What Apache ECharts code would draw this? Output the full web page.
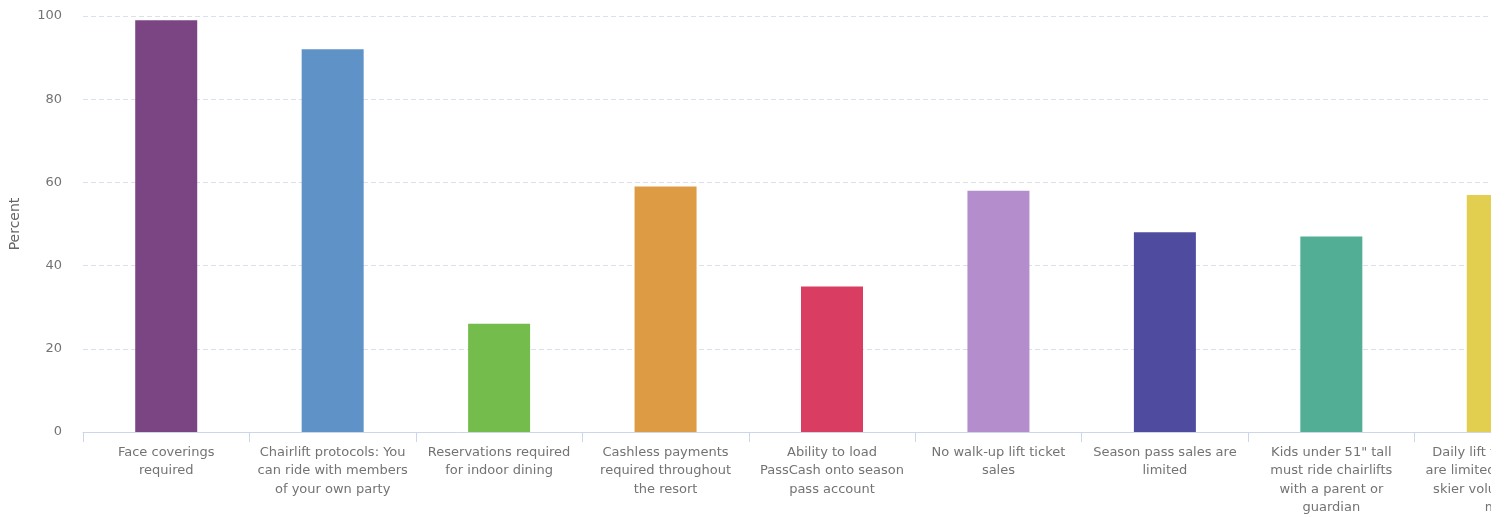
<!DOCTYPE html>
<html>
<head>
<meta charset="utf-8">
<script src="https://cdn.jsdelivr.net/npm/echarts@6/dist/echarts.min.js"></script>
<style>
  html, body { margin: 0; padding: 0; background: #ffffff; }
  #frame { width: 1491px; height: 517px; overflow: hidden; position: relative; }
  #chart { width: 1600px; height: 517px; }
</style>
</head>
<body>
<div id="frame"><div id="chart"></div></div>
<script>
// Resort COVID-19 measures: share of respondents (percent)
const categories = [
  "Face coverings\nrequired",
  "Chairlift protocols: You\ncan ride with members\nof your own party",
  "Reservations required\nfor indoor dining",
  "Cashless payments\nrequired throughout\nthe resort",
  "Ability to load\nPassCash onto season\npass account",
  "No walk-up lift ticket\nsales",
  "Season pass sales are\nlimited",
  "Kids under 51\" tall\nmust ride chairlifts\nwith a parent or\nguardian",
  "Daily lift ticket sales\nare limited to manage\nskier volume on the\nmtn"
];
const percentValues = [99, 92, 26, 59, 35, 58, 48, 47, 57];
const barColors = ["#7b4482", "#5f93c8", "#74bd4c", "#dd9c44", "#d93d62", "#b48dcc", "#4f4ca0", "#52ae95", "#e2cf4f"];
const yTicks = { min: 0, max: 100, interval: 20 };
const yAxisTitle = "Percent";

const chart = echarts.init(document.getElementById('chart'), null, { renderer: 'canvas' });
const font = "'DejaVu Sans', 'Noto Sans', sans-serif";

chart.setOption({
  animation: false,
  backgroundColor: '#ffffff',
  grid: { left: 83, right: 19, top: 16, bottom: 85, containLabel: false },
  xAxis: {
    type: 'category',
    data: categories,
    axisLine: { show: true, lineStyle: { color: '#ccd6eb', width: 1 } },
    axisTick: { show: true, length: 10, alignWithLabel: false, lineStyle: { color: '#ccd6eb' } },
    axisLabel: {
      interval: 0,
      margin: 11,
      color: '#737373',
      fontFamily: font,
      fontSize: 13,
      lineHeight: 18.5,
      align: 'center'
    },
    splitLine: { show: false }
  },
  yAxis: {
    type: 'value',
    min: yTicks.min,
    max: yTicks.max,
    interval: yTicks.interval,
    name: yAxisTitle,
    nameLocation: 'middle',
    nameRotate: 90,
    nameGap: 61,
    nameTextStyle: { color: '#666666', fontFamily: font, fontSize: 14 },
    axisLine: { show: false },
    axisTick: { show: false },
    axisLabel: { color: '#737373', fontFamily: font, fontSize: 13, margin: 21 },
    splitLine: { show: true, lineStyle: { color: '#dae1ea', type: [5, 3], width: 1 } }
  },
  series: [{
    type: 'bar',
    barWidth: 62,
    data: percentValues.map((v, i) => ({ value: v, itemStyle: { color: barColors[i] } })),
    emphasis: { disabled: true }
  }]
});
</script>
</body>
</html>
